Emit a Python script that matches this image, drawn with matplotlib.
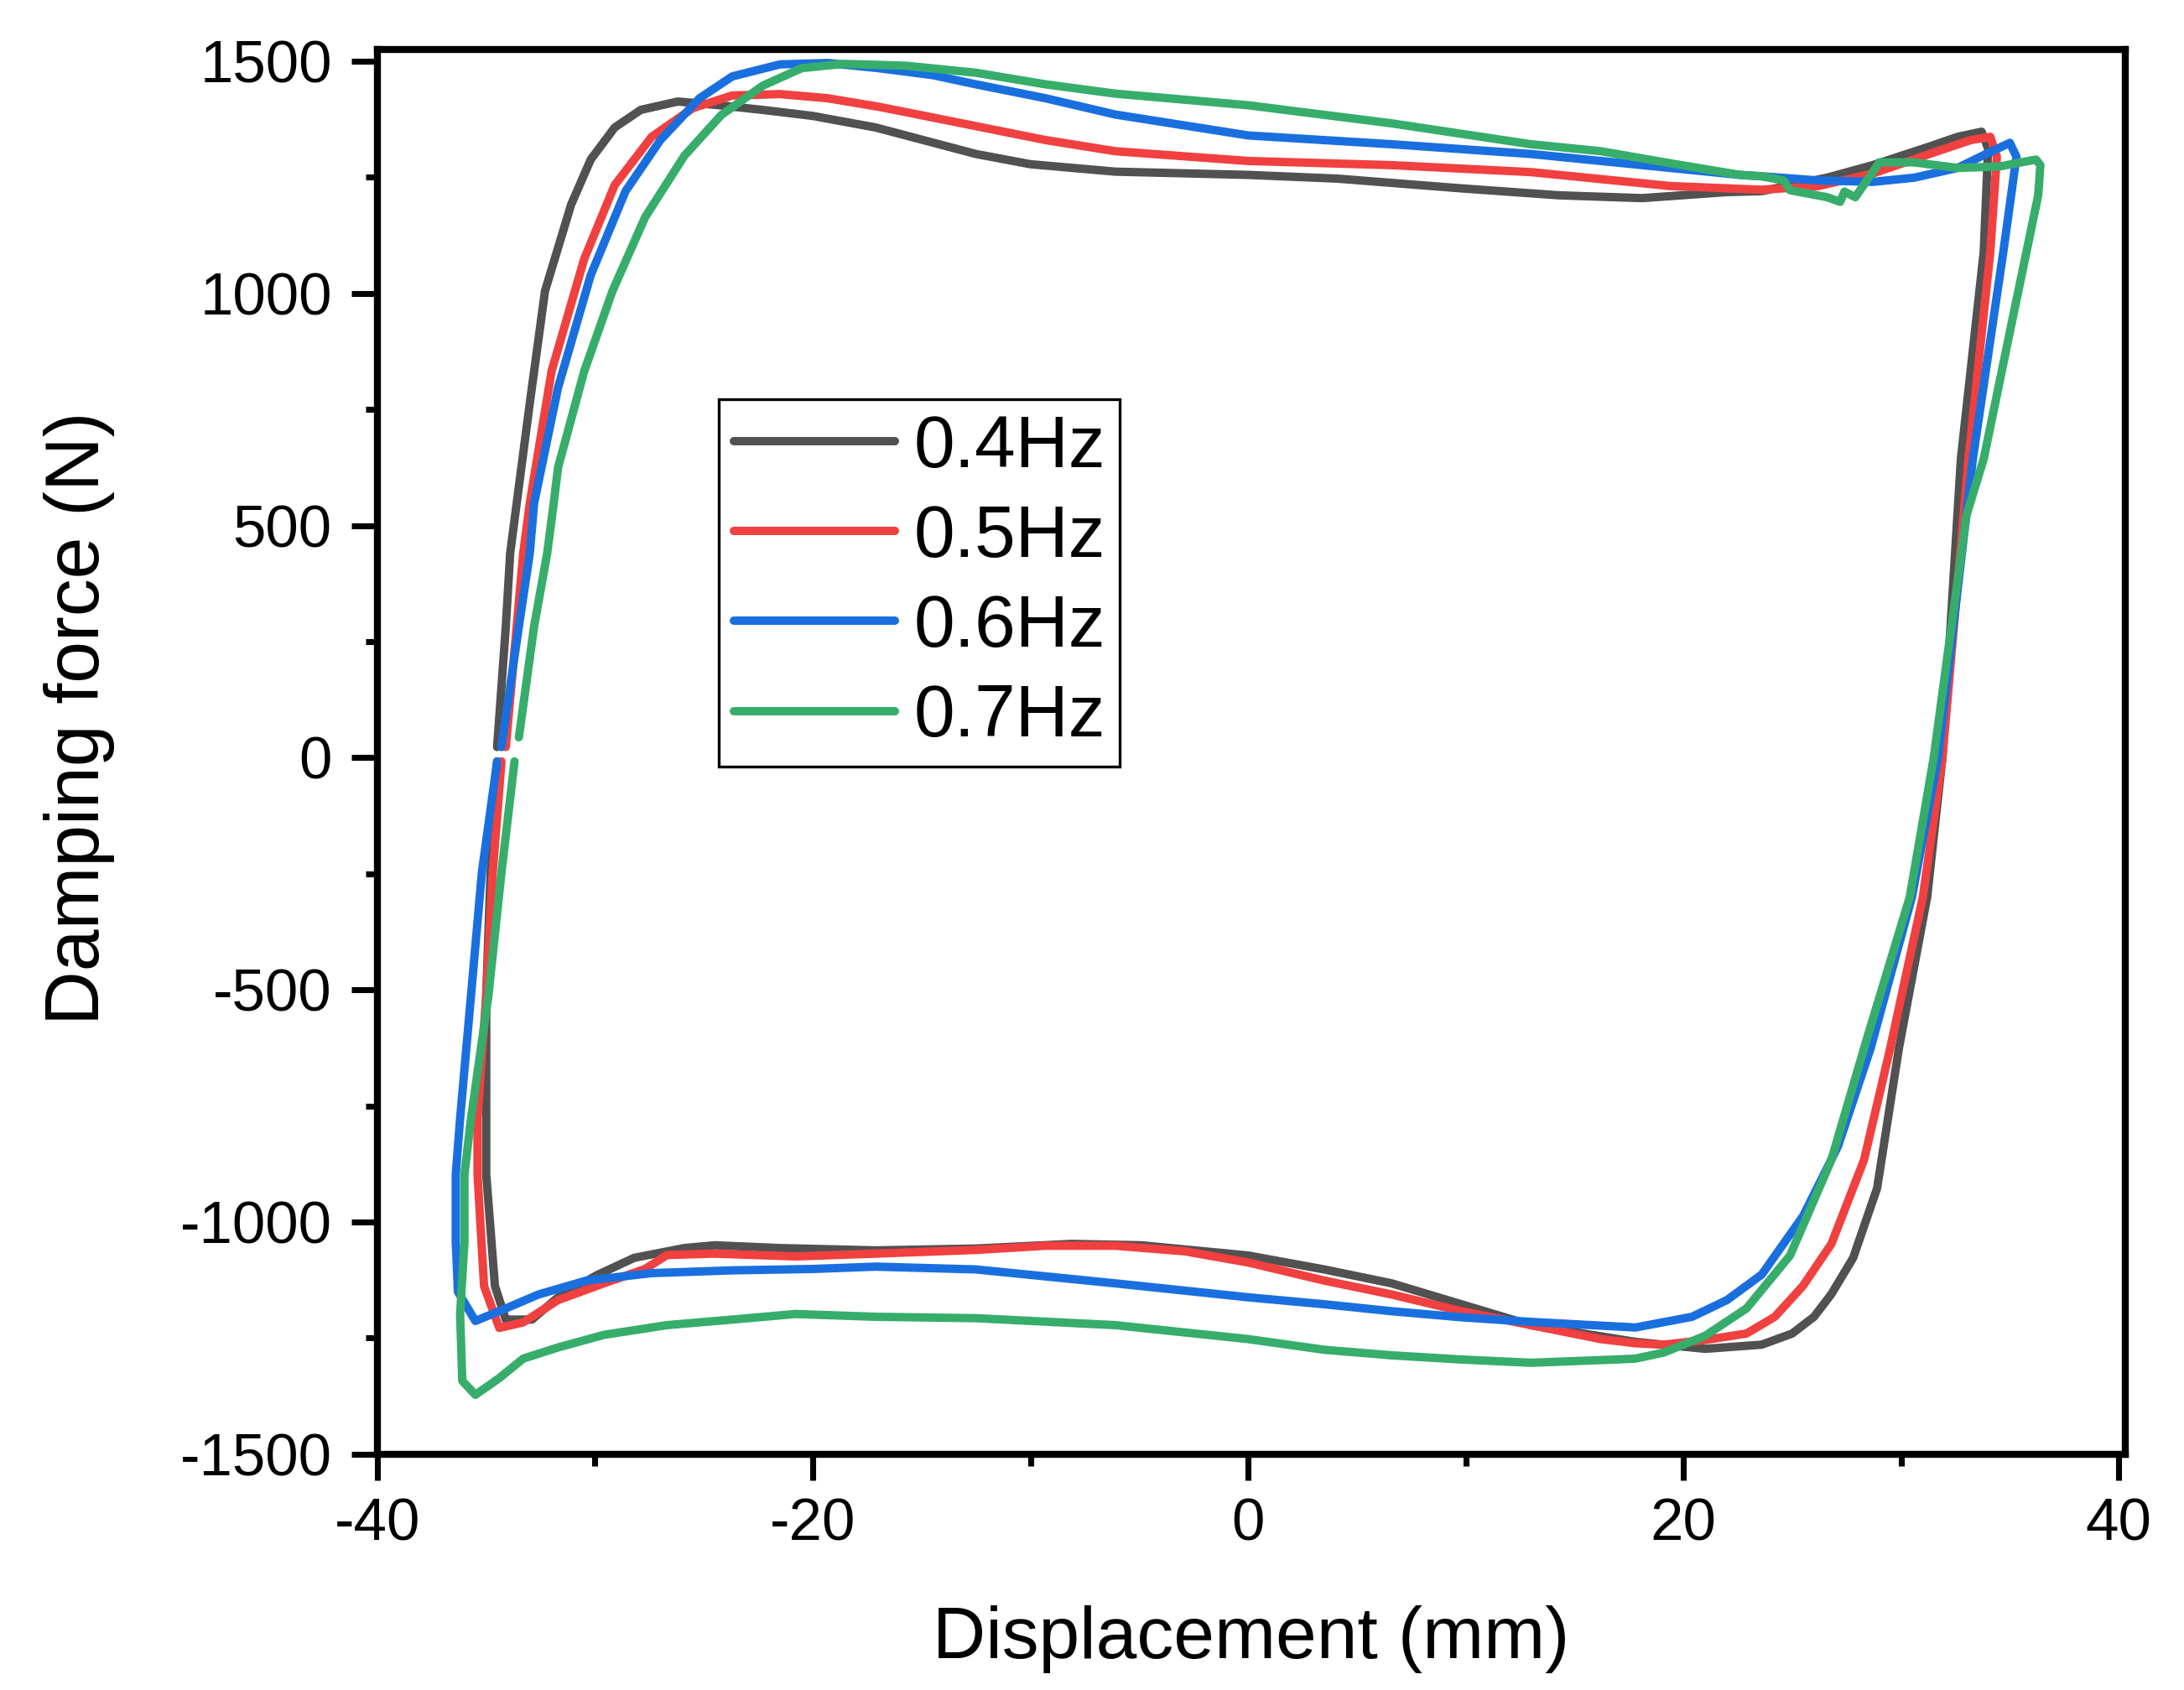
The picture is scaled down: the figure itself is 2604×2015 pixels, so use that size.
import matplotlib
matplotlib.use('Agg')
import matplotlib.pyplot as plt
from matplotlib.ticker import MultipleLocator

plt.rcParams['font.family'] = ['Liberation Sans', 'DejaVu Sans']
plt.rcParams['axes.unicode_minus'] = False

# Laços de histerese (deslocamento em mm, força em N)
# Cada laço começa logo acima de F=0 no lado esquerdo e termina logo abaixo
labels = ['0.4Hz', '0.5Hz', '0.6Hz', '0.7Hz']
colors = ['#515151', '#F14040', '#1A6FDF', '#37AD6B']

disp_04 = [-34.5, -34.1, -33.9, -33.6, -33.0, -32.3, -31.1, -30.2, -29.1, -27.9, -26.2, -24.5,
           -22.3, -20.0, -17.1, -12.5, -10.0, -6.1, 0.0, 4.1, 9.8, 14.3, 18.1, 22.0, 23.6, 26.6,
           28.7, 31.3, 32.6, 33.7, 34.0, 33.8, 32.75, 31.9, 31.2, 29.9, 28.9, 27.8, 26.8, 26.0,
           25.0, 23.6, 21.0, 17.8, 13.0, 9.8, 6.6, 3.5, 0.0, -4.9, -8.1, -12.5, -17.1, -21.5,
           -24.5, -25.9, -28.2, -29.9, -31.7, -32.9, -34.1, -34.6, -35.0, -35.0, -35.0, -34.8, -34.5]
force_04 = [23, 283, 440, 548, 763, 1005, 1191, 1288, 1357, 1395, 1413, 1406,
            1395, 1382, 1357, 1300, 1278, 1262, 1255, 1247, 1226, 1211, 1205, 1218, 1220, 1249,
            1276, 1316, 1337, 1348, 1312, 1090, 644, 0, -300, -626, -927, -1077, -1155, -1204,
            -1240, -1264, -1273, -1258, -1222, -1177, -1132, -1102, -1072, -1050, -1047, -1057, -1061, -1056,
            -1050, -1056, -1077, -1114, -1162, -1210, -1210, -1138, -897, -777, -512, -247, -8]

disp_05 = [-34.1, -33.6, -33.3, -33.0, -32.0, -30.5, -29.1, -27.4, -25.5, -23.7, -21.5, -19.3,
           -17.0, -15.7, -12.5, -9.3, -6.1, 0.0, 6.6, 13.0, 16.2, 19.4, 23.6, 26.2, 28.7, 31.3,
           33.2, 34.1, 34.4, 34.1, 33.1, 31.9, 31.0, 29.5, 28.3, 26.8, 25.5, 24.2, 22.9, 21.0,
           19.1, 17.8, 16.2, 13.0, 9.8, 6.6, 3.5, 0.0, -2.9, -6.1, -9.3, -12.5, -17.1, -20.8,
           -24.5, -26.7, -27.7, -29.6, -31.7, -33.3, -34.4, -35.1, -35.4, -35.4, -35.0, -34.7, -34.3]
force_05 = [23, 283, 440, 548, 832, 1074, 1233, 1337, 1399, 1426, 1429, 1420,
            1402, 1390, 1360, 1330, 1306, 1285, 1276, 1261, 1246, 1231, 1223, 1231, 1258, 1300,
            1330, 1337, 1294, 1090, 644, 0, -300, -626, -866, -1047, -1137, -1204, -1240, -1254,
            -1264, -1261, -1252, -1222, -1192, -1156, -1126, -1087, -1063, -1051, -1051, -1060, -1068, -1074,
            -1068, -1071, -1101, -1132, -1168, -1216, -1228, -1138, -897, -777, -512, -247, -8]

disp_06 = [-34.3, -33.5, -33.0, -32.8, -31.7, -30.2, -28.6, -27.0, -25.2, -23.7, -21.5, -19.3,
           -17.0, -14.5, -12.5, -9.3, -6.1, 0.0, 6.6, 13.0, 19.4, 22.6, 23.6, 26.2, 28.7, 30.6,
           32.6, 33.9, 35.0, 35.3, 34.7, 33.3, 31.7, 30.5, 28.6, 27.1, 25.5, 23.6, 22.0, 20.4,
           17.8, 13.0, 9.8, 6.6, 3.5, 0.0, -6.1, -12.5, -17.1, -20.0, -23.7, -27.4, -30.4, -32.6,
           -34.1, -35.5, -36.3, -36.4, -36.4, -36.2, -35.7, -35.2, -34.5]
force_06 = [23, 283, 440, 548, 797, 1039, 1220, 1330, 1420, 1467, 1493, 1496,
            1485, 1470, 1450, 1420, 1385, 1340, 1321, 1300, 1270, 1255, 1252, 1243, 1240, 1249,
            1270, 1300, 1324, 1294, 1090, 644, 0, -300, -626, -837, -987, -1113, -1168, -1204,
            -1227, -1215, -1205, -1192, -1177, -1162, -1132, -1102, -1096, -1101, -1104, -1110, -1126, -1156,
            -1186, -1213, -1150, -1042, -897, -777, -512, -247, -8]

disp_07 = [-33.5, -32.8, -32.2, -31.9, -31.7, -30.5, -29.2, -27.7, -25.9, -24.2, -22.3, -20.5,
           -18.6, -17.0, -15.7, -12.5, -9.3, -6.1, 0.0, 6.6, 13.0, 16.2, 19.4, 22.6, 23.6, 24.6,
           24.9, 26.6, 27.2, 27.4, 27.9, 29.0, 30.6, 32.6, 34.5, 36.2, 36.4, 36.3, 35.1, 33.8,
           33.0, 31.5, 30.4, 28.4, 26.8, 24.9, 22.9, 21.0, 19.1, 17.8, 16.9, 13.0, 9.8, 6.6,
           3.5, 0.0, -6.1, -12.5, -17.1, -20.8, -23.7, -26.7, -29.6, -31.7, -33.3, -34.4, -35.5,
           -36.1, -36.2, -36.0, -36.0, -35.7, -34.9, -34.3, -33.7]
force_07 = [44, 283, 440, 548, 625, 832, 1005, 1164, 1296, 1384, 1447, 1485,
            1494, 1492, 1490, 1475, 1450, 1430, 1405, 1366, 1321, 1306, 1280, 1255, 1252, 1243,
            1222, 1207, 1197, 1219, 1207, 1282, 1282, 1270, 1273, 1288, 1276, 1211, 940, 644,
            521, 0, -300, -610, -866, -1072, -1186, -1245, -1281, -1294, -1296, -1303, -1296, -1287,
            -1275, -1252, -1222, -1207, -1204, -1198, -1210, -1222, -1243, -1270, -1294, -1336, -1372,
            -1342, -1198, -1042, -897, -777, -512, -247, -8]

series = [(disp_04, force_04), (disp_05, force_05), (disp_06, force_06), (disp_07, force_07)]

fig = plt.figure(figsize=(2604 / 300, 2015 / 300), dpi=300)
ax = fig.add_axes([0.1728, 0.1395, 0.8003, 0.8312])

for (x, y), lab, c in zip(series, labels, colors):
    ax.plot(x, y, color=c, lw=2.4, label=lab, solid_joinstyle='round', solid_capstyle='round')

ax.set_xlim(-40, 40.3)
ax.set_ylim(-1500, 1525)
ax.xaxis.set_major_locator(MultipleLocator(20))
ax.xaxis.set_minor_locator(MultipleLocator(10))
ax.yaxis.set_major_locator(MultipleLocator(500))
ax.yaxis.set_minor_locator(MultipleLocator(250))
ax.tick_params(which='both', direction='out', top=False, right=False, width=1.7, labelsize=17)
ax.tick_params(which='major', length=7.5)
ax.tick_params(which='minor', length=3.3)
ax.tick_params(axis='x', pad=5)
ax.tick_params(axis='y', pad=5.5)
for s in ax.spines.values():
    s.set_linewidth(2)

ax.set_xlabel('Displacement (mm)', fontsize=21, labelpad=15)
ax.set_ylabel('Damping force (N)', fontsize=21.5)
ax.yaxis.set_label_coords(-0.150, 0.524)

leg = ax.legend(loc='upper left', bbox_to_anchor=(0.1955, 0.751), borderaxespad=0,
                fontsize=21, frameon=True, fancybox=False, framealpha=1, edgecolor='black',
                handlelength=2.2, handletextpad=0.25, borderpad=0.2, labelspacing=0.3)
leg.get_frame().set_linewidth(0.8)

plt.savefig('out.png', dpi=300)
